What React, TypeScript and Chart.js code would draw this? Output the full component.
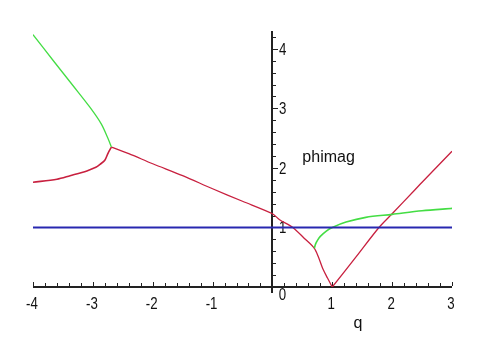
import React, { useEffect, useRef } from "react";
import { Chart, registerables } from "chart.js";

Chart.register(...registerables);

// ---- data ----
const redLowerX = [-4, -3.6, -3.38, -3.1, -2.95, -2.88, -2.8, -2.745, -2.69];
const redLowerY = [1.76, 1.81, 1.87, 1.95, 2.01, 2.06, 2.13, 2.25, 2.35];

const greenUpperX = [-4, -3.66, -3.33, -3.05, -2.86, -2.745, -2.69];
const greenUpperY = [4.24, 3.8, 3.38, 3.02, 2.74, 2.49, 2.35];

const redMiddleX = [-2.69, -2.4, -2, -1.5, -1, -0.5, 0, 0.12, 0.34, 0.53, 0.7, 0.77, 0.84, 0.92, 1];
const redMiddleY = [2.35, 2.24, 2.07, 1.87, 1.65, 1.44, 1.23, 1.13, 1.0, 0.82, 0.65, 0.5, 0.31, 0.15, 0];

const redRightX = [1, 1.4, 1.78, 2, 2.37, 2.5, 3];
const redRightY = [0, 0.51, 1.0, 1.23, 1.62, 1.76, 2.28];

const greenRightX = [0.7, 0.72, 0.75, 0.8, 0.9, 1.0, 1.23, 1.56, 2, 2.5, 3];
const greenRightY = [0.65, 0.72, 0.78, 0.85, 0.94, 1.0, 1.09, 1.17, 1.22, 1.28, 1.32];

const blueX = [-4, 3];
const blueY = [1, 1];

const xTickLabels = [-4, -3, -2, -1, 0, 1, 2, 3];
const yTickLabels = [1, 2, 3, 4];
const xMin = -4;
const xMax = 3;
const yMin = 0;
const yMax = 4.3;
const minorStep = 0.2;
const curveLabel = "phimag";
const curveLabelPos = { x: 0.5, y: 2.1 };
const xAxisTitle = "q";

const RED = "#c8203f";
const GREEN = "#44dd44";
const BLUE = "#2828b0";

function pts(xs: number[], ys: number[]) {
  return xs.map((v, i) => ({ x: v, y: ys[i] }));
}

const axesPlugin = {
  id: "mapleAxes",
  beforeDatasetsDraw(chart: any) {
    const { ctx, scales } = chart;
    const xs = scales.x;
    const ys = scales.y;
    const x0 = Math.round(xs.getPixelForValue(0));
    const y0 = Math.round(ys.getPixelForValue(0));
    ctx.save();
    ctx.strokeStyle = "#222";
    ctx.lineWidth = 2;
    ctx.beginPath();
    ctx.moveTo(Math.round(xs.getPixelForValue(xMin)), y0);
    ctx.lineTo(Math.round(xs.getPixelForValue(xMax)), y0);
    ctx.moveTo(x0, Math.round(ys.top));
    ctx.lineTo(x0, y0 + 6);
    ctx.stroke();

    ctx.lineWidth = 1;
    ctx.beginPath();
    const nx0 = Math.round(xMin / minorStep);
    const nx1 = Math.round(xMax / minorStep);
    for (let i = nx0; i <= nx1; i++) {
      const v = i * minorStep;
      const px = Math.round(xs.getPixelForValue(v)) + 0.5;
      const major = i % 5 === 0;
      ctx.moveTo(px, y0 - 1);
      ctx.lineTo(px, y0 - (major ? 5 : 4));
    }
    const ny1 = Math.floor(yMax / minorStep);
    for (let i = 1; i <= ny1; i++) {
      const v = i * minorStep;
      const py = Math.round(ys.getPixelForValue(v)) + 0.5;
      const major = i % 5 === 0;
      ctx.moveTo(x0 + 1, py);
      ctx.lineTo(x0 + (major ? 6 : 4), py);
    }
    ctx.stroke();

    ctx.fillStyle = "#111";
    ctx.font = "17px 'Liberation Sans', Arial, sans-serif";
    const drawCond = (t: string, cx: number, cy: number, align: string) => {
      ctx.save();
      ctx.translate(cx, cy);
      ctx.scale(0.78, 1);
      ctx.textAlign = align;
      ctx.textBaseline = "middle";
      ctx.fillText(t, 0, 0);
      ctx.restore();
    };
    xTickLabels.forEach((v) => {
      const px = xs.getPixelForValue(v);
      if (v === 0) {
        drawCond(String(v), px + 10, y0 + 8, "center");
      } else {
        drawCond(String(v), px - 1, y0 + 17, "center");
      }
    });
    yTickLabels.forEach((v) => {
      const py = ys.getPixelForValue(v);
      drawCond(String(v), x0 + 7, py + 1, "left");
    });

    ctx.font = "16px 'Liberation Sans', Arial, sans-serif";
    ctx.textAlign = "left";
    ctx.textBaseline = "alphabetic";
    ctx.fillText(
      curveLabel,
      xs.getPixelForValue(curveLabelPos.x),
      ys.getPixelForValue(curveLabelPos.y)
    );
    ctx.textAlign = "center";
    ctx.fillText(xAxisTitle, xs.getPixelForValue(1.43), y0 + 41);
    ctx.restore();
  },
};

export default function App() {
  const ref = useRef<HTMLCanvasElement | null>(null);
  useEffect(() => {
    if (!ref.current) return;
    const line = (xs: number[], ys: number[], color: string, w: number) => ({
      data: pts(xs, ys),
      borderColor: color,
      backgroundColor: color,
      borderWidth: w,
      showLine: true,
      pointRadius: 0,
      tension: 0.3,
      fill: false,
    });
    const chart = new Chart(ref.current, {
      type: "scatter",
      data: {
        datasets: [
          line(blueX, blueY, BLUE, 2),
          line(greenUpperX, greenUpperY, GREEN, 1.3),
          line(greenRightX, greenRightY, GREEN, 1.6),
          line(redLowerX, redLowerY, RED, 1.6),
          line(redMiddleX, redMiddleY, RED, 1.3),
          line(redRightX, redRightY, RED, 1.3),
        ],
      },
      options: {
        responsive: false,
        animation: false,
        events: [],
        layout: { padding: { left: 33, right: 33, top: 31, bottom: 73 } },
        plugins: { legend: { display: false }, tooltip: { enabled: false } },
        scales: {
          x: { type: "linear", min: xMin, max: xMax, display: false },
          y: { type: "linear", min: yMin, max: yMax, display: false },
        },
      },
      plugins: [axesPlugin],
    } as any);
    return () => chart.destroy();
  }, []);
  return (
    <div style={{ position: "fixed", left: 0, top: 0, width: 485, height: 360, background: "#fff" }}>
      <canvas ref={ref} width={485} height={360} />
    </div>
  );
}
